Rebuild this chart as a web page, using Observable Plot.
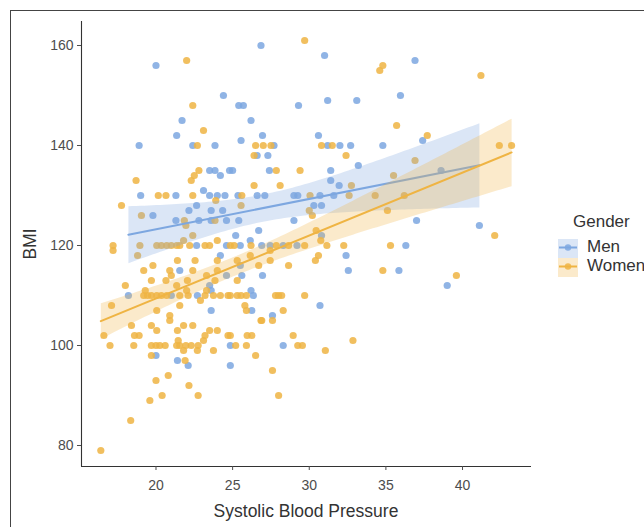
<!DOCTYPE html>
<html><head><meta charset="utf-8">
<script src="https://cdn.jsdelivr.net/npm/d3@7"></script>
<script src="https://cdn.jsdelivr.net/npm/@observablehq/plot@0.6"></script>
<style>
html,body{margin:0;padding:0;background:#fff;overflow:hidden;}
#wrap{position:relative;width:644px;height:527px;font-family:"Liberation Sans",Arial,sans-serif;overflow:hidden;background:#fff;}
#chart{position:absolute;left:0;top:0;}
.frame{position:absolute;left:10px;top:10px;width:700px;height:600px;border-left:1px solid #444;border-top:1px solid #444;}
.t{position:absolute;white-space:nowrap;color:#333;line-height:20px;}
</style>
</head><body>
<div id="wrap">
  <div class="frame"></div>
  <div id="chart"></div>
  <div class="t" id="xt" style="left:306px;top:501px;font-size:17.5px;transform:translateX(-50%);">Systolic Blood Pressure</div>
  <div class="t" id="yt" style="left:30px;top:244px;font-size:17.5px;transform:translate(-50%,-50%) rotate(-90deg);">BMI</div>
  <div class="t" style="left:573px;top:212px;font-size:17px;">Gender</div>
  <div id="keys" style="position:absolute;left:558px;top:239px;"></div>
  <div class="t" style="left:587px;top:237px;font-size:17px;">Men</div>
  <div class="t" style="left:587px;top:256px;font-size:17px;">Women</div>
</div>
<script>
const genders = ["Men", "Women"];
const colors = ["#7DA7E0", "#EFB443"];
const xTicks = [20, 25, 30, 35, 40];
const yTicks = [80, 100, 120, 140, 160];
const xDomain = [15.14, 44.5];
const yDomain = [75.8, 164.8];

const menBP = [20.0,24.4,21.7,21.35,18.9,22.4,23.85,23.5,23.85,24.8,26.85,31.0,25.4,25.7,29.3,31.2,33.1,26.2,25.55,26.95,30.6,27.7,31.2,32.0,32.7,34.8,26.6,27.3,33.2,25.0,27.4,31.4,36.9,35.95,37.4,38.6,37.0,41.1,36.3,35.85,39.0,24.2,19.0,21.3,23.5,24.0,23.1,24.5,22.65,19.8,22.15,23.6,24.35,21.3,22.8,23.6,24.6,22.65,24.6,24.2,21.55,24.6,18.2,21.0,22.7,23.5,23.6,23.6,20.0,21.4,22.1,24.85,24.85,28.3,31.4,31.95,25.35,26.6,27.1,29.0,29.25,30.7,31.6,30.3,30.8,25.4,29.0,26.7,25.2,30.8,25.5,26.15,26.9,27.45,28.3,29.2,25.5,32.4,32.55,25.6,26.95,26.2,26.35,26.25,30.7,27.6];
const menBMI = [156,150,145,142,140,140,140,135,135,135,160,158,148,148,148,149,149,145,141,142,142,140,140,140,140,140,138,138,136,135,135,135,157,150,141,135,125,124,120,115,112,134,130,130,130,130,131,130,128,126,127,127,127,125,125,125,125,120,120,118,115,114,110,110,110,112,111,107,98,97,96,96,100,100,133,132,130,130,130,130,130,130,130,128,128,125,125,123,122,122,120,121,120,120,120,120,116,118,115,114,114,111,110,107,108,106];

const womenBP = [22.0,22.4,23.1,22.7,22.8,29.7,34.6,34.8,26.5,27.0,27.5,30.8,31.5,26.4,32.4,27.85,29.4,41.2,35.7,37.7,42.4,43.2,36.9,35.5,36.2,35.1,42.1,35.3,34.8,39.6,18.7,22.3,22.5,20.15,20.65,22.4,23.9,17.75,19.05,21.85,21.95,23.85,22.4,17.2,17.2,18.95,20.05,20.35,20.7,21.0,21.35,21.55,21.8,22.2,23.2,23.5,24.0,18.8,21.4,22.55,24.0,19.8,19.2,20.9,21.0,22.4,24.0,19.7,20.65,23.3,22.05,23.85,18.0,21.35,19.2,19.45,19.7,20.05,20.35,20.7,21.55,22.1,23.2,23.75,24.2,24.7,19.3,22.0,23.3,22.9,17.1,20.05,21.55,20.9,18.4,19.7,20.05,20.9,21.4,21.8,22.4,16.6,18.6,18.9,17.0,18.55,19.7,20.0,20.25,20.6,21.35,21.55,21.95,22.3,22.75,23.1,23.2,23.5,24.0,24.7,21.45,21.8,22.7,23.75,19.7,21.9,20.8,20.0,22.15,20.4,22.75,19.6,18.35,16.4,26.9,27.6,24.85,25.95,26.25,28.95,32.85,25.2,25.9,29.25,29.55,31.05,26.5,27.6,28.0,26.4,28.1,32.75,25.6,30.05,32.6,34.3,25.55,30.0,30.2,30.45,30.75,24.85,25.1,26.2,27.85,28.65,29.7,31.15,32.25,27.45,26.15,25.3,27.45,30.6,30.4,26.7,28.65,25.3,24.85,25.3,25.55,25.9,27.8,28.0,28.2,29.7,25.8,25.9,28.3,26.85];
const womenBMI = [157,148,143,140,135,161,155,156,140,140,140,140,140,138,138,135,135,154,144,142,140,140,137,134,130,127,122,120,115,114,133,133,134,130,130,130,129,128,126,125,124,125,122,120,119,120,120,120,120,120,120,120,121,120,120,120,121,118,117,117,117,116,115,115,114,115,115,113,113,114,113,113,112,112,110,110,110,110,110,110,110,110,110,110,110,110,111,111,111,109,108,107,108,106,104,104,103,105,103,104,104,102,102,102,100,100,100,100,100,100,100,100,100,100,100,101,102,103,103,102,101,99,99,99,98,97,94,93,92,90,90,89,85,79,105,105,102,102,102,102,101,100,100,100,100,99,98,95,90,132,132,132,130,130,130,130,128,127,126,123,121,120,120,120,120,120,120,120,120,119,118,117,117,118,117,116,116,113,110,110,110,110,110,110,110,110,108,107,107,105];

const data = [
  ...menBP.map((bp, i) => ({gender: "Men", bp, bmi: menBMI[i]})),
  ...womenBP.map((bp, i) => ({gender: "Women", bp, bmi: womenBMI[i]}))
];

const chart = Plot.plot({
  width: 644, height: 527,
  marginLeft: 81, marginRight: 113, marginTop: 21, marginBottom: 61,
  x: {domain: xDomain},
  y: {domain: yDomain},
  color: {domain: genders, range: colors},
  style: {fontFamily: "'Liberation Sans', Arial, sans-serif", background: "transparent", color: "#4d4d4d"},
  marks: [
    Plot.dot(data, {x: "bp", y: "bmi", fill: "gender", r: 3.6, fillOpacity: 0.85}),
    Plot.linearRegressionY(data, {x: "bp", y: "bmi", stroke: "gender", fill: "gender", fillOpacity: 0.28, strokeWidth: 2}),
    Plot.ruleX([xDomain[0]], {stroke: "#333", strokeWidth: 1.1}),
    Plot.ruleY([yDomain[0]], {stroke: "#333", strokeWidth: 1.1}),
    Plot.axisX({ticks: xTicks, tickSize: 4, tickPadding: 10, fontSize: 14, label: null}),
    Plot.axisY({ticks: yTicks, tickSize: 4, tickPadding: 4, fontSize: 14, label: null})
  ]
});
document.getElementById("chart").appendChild(chart);

// legend keys
const ns = "http://www.w3.org/2000/svg";
const ks = document.createElementNS(ns, "svg");
ks.setAttribute("width", 20); ks.setAttribute("height", 38);
genders.forEach((g, i) => {
  const y0 = i * 19;
  const r = document.createElementNS(ns, "rect");
  r.setAttribute("x", 0); r.setAttribute("y", y0); r.setAttribute("width", 20); r.setAttribute("height", 19);
  r.setAttribute("fill", colors[i]); r.setAttribute("fill-opacity", 0.28);
  ks.appendChild(r);
  const l = document.createElementNS(ns, "line");
  l.setAttribute("x1", 1); l.setAttribute("x2", 19); l.setAttribute("y1", y0 + 8.5); l.setAttribute("y2", y0 + 8.5);
  l.setAttribute("stroke", colors[i]); l.setAttribute("stroke-width", 2);
  ks.appendChild(l);
  const c = document.createElementNS(ns, "circle");
  c.setAttribute("cx", 10); c.setAttribute("cy", y0 + 8.5); c.setAttribute("r", 3.2);
  c.setAttribute("fill", colors[i]); c.setAttribute("fill-opacity", 0.85);
  ks.appendChild(c);
});
document.getElementById("keys").appendChild(ks);
</script>
</body></html>
